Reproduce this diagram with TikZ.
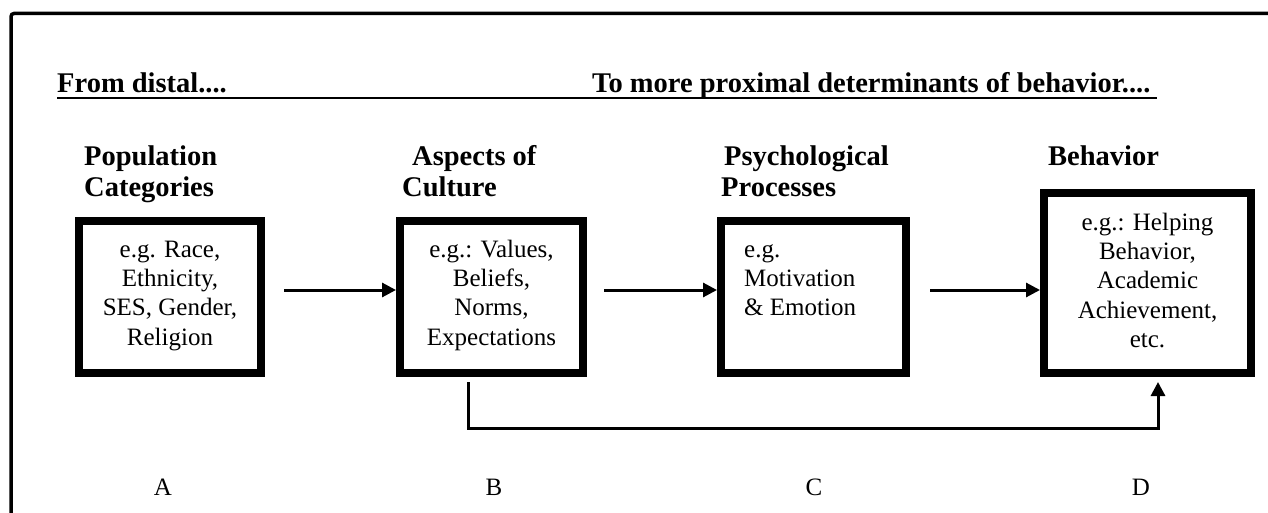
\documentclass[tikz,border=0pt]{standalone}
\usepackage{fontspec}
\setmainfont{Liberation Serif}
\usetikzlibrary{arrows.meta}
\begin{document}
\begin{tikzpicture}[x=1pt,y=-1pt,
  box/.style={draw,line width=8pt,outer sep=4pt,inner sep=0pt},
  btxt/.style={font=\fontsize{25}{29.3}\selectfont,inner sep=0pt},
  head/.style={font=\bfseries\fontsize{28.5}{31}\selectfont,inner sep=0pt,align=left,anchor=north west},
  letter/.style={font=\fontsize{25}{29}\selectfont,inner sep=0pt,anchor=base},
  arr/.style={line width=3pt,-{Triangle[length=14pt,width=14pt]}}]
\clip (0,0) rectangle (1268,513);
% outer frame
\draw[line width=3.5pt,rounded corners=3pt] (11,13.5) rectangle (1300,560);
% title
\node[head,anchor=base west] (t1) at (57,93) {From distal....};
\node[head,anchor=base west] (t2) at (592,93) {To more proximal determinants of behavior....};
\coordinate (u1) at (57,98);
\coordinate (u2) at (1157,98);
\draw[line width=2.5pt] (u1) -- (u2);
% headings
\node[head] (hA) at (84,143.3) {\strut Population\\\strut Categories};
\node[head] (hB) at (402,143.3) {\strut\hspace*{10pt}Aspects of\\\strut Culture};
\node[head] (hC) at (721,143.3) {\strut\hspace*{3pt}Psychological\\\strut Processes};
\node[head] (hD) at (1048,143.3) {\strut Behavior};
% boxes
\node[box,minimum width=182pt,minimum height=152pt] (A) at (170,297) {};
\node[box,minimum width=183pt,minimum height=152pt] (B) at (491.5,297) {};
\node[box,minimum width=185pt,minimum height=152pt] (C) at (813.5,297) {};
\node[box,minimum width=207pt,minimum height=180pt] (D) at (1147.5,283) {};
% box texts
\node[btxt,align=center,anchor=north] (tA) at (170,236.5) {\strut e.g. Race,\\\strut Ethnicity,\\\strut SES, Gender,\\\strut Religion};
\node[btxt,align=center,anchor=north] (tB) at (491.5,236.5) {\strut e.g.: Values,\\\strut Beliefs,\\\strut Norms,\\\strut Expectations};
\node[btxt,align=left,anchor=north west] (tC) at (744,236.5) {\strut e.g.\\\strut Motivation\\\strut \& Emotion};
\node[btxt,align=center,anchor=north] (tD) at (1147.5,209.5) {\strut e.g.: Helping\\\strut Behavior,\\\strut Academic\\\strut Achievement,\\\strut etc.};
% arrows
\draw[arr,shorten <=19pt] ([yshift=7pt]A.east) -- ([yshift=7pt]B.west);
\draw[arr,shorten <=17pt] ([yshift=7pt]B.east) -- ([yshift=7pt]C.west);
\draw[arr,shorten <=20pt] ([yshift=7pt]C.east) -- ([yshift=7pt]C.east -| D.west);
\draw[line width=3pt,-{Triangle[length=14pt,width=14pt]},shorten <=5pt,shorten >=5pt]
  ([xshift=-23.5pt]B.south) -- ++(0,51) -| ([xshift=10.5pt]D.south);
% letters
\node[letter] (lA) at (163,495) {A};
\node[letter] (lB) at (494,495) {B};
\node[letter] (lC) at (814,495) {C};
\node[letter] (lD) at (1141,495) {D};
\end{tikzpicture}
\end{document}
